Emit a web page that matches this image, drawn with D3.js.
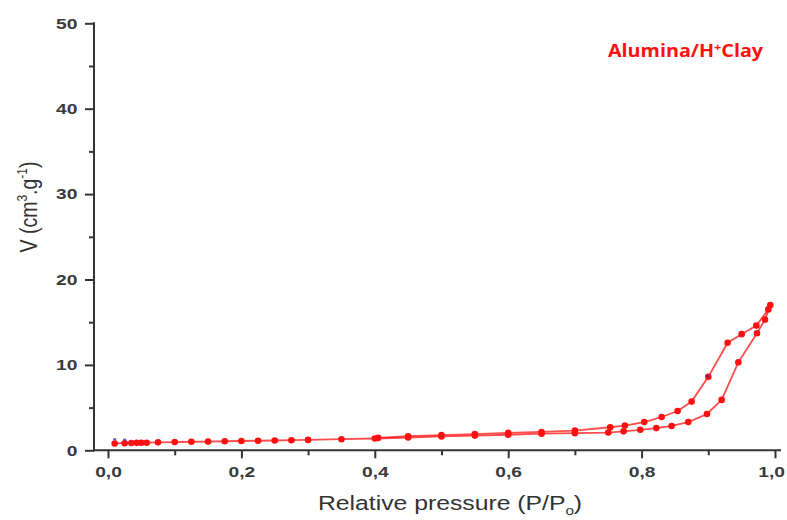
<!DOCTYPE html>
<html>
<head>
<meta charset="utf-8">
<script src="https://cdn.jsdelivr.net/npm/d3@7"></script>
<style>
  body { margin: 0; background: #fff; }
  svg { display: block; }
</style>
</head>
<body>
<div class="visContainer"></div>
<script>
// adsorption branch (P/P0, V)
const adsP = [0.010, 0.025, 0.035, 0.043, 0.050, 0.058, 0.075, 0.100, 0.125, 0.150, 0.175, 0.200,
              0.225, 0.250, 0.275, 0.300, 0.350, 0.400, 0.450, 0.500, 0.550, 0.600, 0.650, 0.700,
              0.750, 0.773, 0.798, 0.822, 0.845, 0.870, 0.898, 0.920, 0.945, 0.973, 0.985, 0.993];
const adsV = [0.80, 0.83, 0.85, 0.87, 0.88, 0.89, 0.93, 0.96, 1.00, 1.02, 1.06, 1.09,
              1.12, 1.15, 1.18, 1.22, 1.30, 1.38, 1.50, 1.62, 1.72, 1.82, 1.95, 2.00,
              2.08, 2.22, 2.40, 2.60, 2.85, 3.30, 4.25, 5.90, 10.3, 13.7, 15.3, 17.0];

// desorption branch
const desP = [0.990, 0.972, 0.950, 0.929, 0.900, 0.875, 0.854, 0.830, 0.804, 0.775, 0.753,
              0.700, 0.650, 0.600, 0.550, 0.500, 0.450, 0.405];
const desV = [16.5, 14.6, 13.6, 12.6, 8.6, 5.7, 4.6, 3.9, 3.3, 2.9, 2.7,
              2.3, 2.15, 2.05, 1.9, 1.78, 1.65, 1.45];

// small blue markers hidden under the red ones
const blueP = [0.010, 0.025, 0.899];
const blueV = [1.0, 0.95, 8.4];

const xTicks = [0, 0.2, 0.4, 0.6, 0.8, 1.0];
const xMinor = [0.1, 0.3, 0.5, 0.7, 0.9];
const yTicks = [0, 10, 20, 30, 40, 50];
const yMinor = [5, 15, 25, 35, 45];

const width = 787;
const height = 520;
const red = '#ff1010';
const axisCol = '#333';

const xScale = d3.scaleLinear().domain([0, 1]).range([108, 775]);
const yScale = d3.scaleLinear().domain([0, 50]).range([450.3, 23.3]);
const x0 = 94;

const svg = d3.select('.visContainer')
              .append('svg')
              .attr('width', width)
              .attr('height', height)
              .style('font-family', '"Liberation Sans", Arial, sans-serif');

const comma = (d) => d3.format('.1f')(d).replace('.', ',');

// x axis
svg.append('g')
   .attr('transform', `translate(0,${yScale(0)})`)
   .call(d3.axisBottom(xScale).tickValues(xTicks).tickSize(8).tickPadding(8).tickFormat(comma));
svg.append('g')
   .attr('transform', `translate(0,${yScale(0)})`)
   .call(d3.axisBottom(xScale).tickValues(xMinor).tickSize(5).tickFormat(''));

// y axis
svg.append('g')
   .attr('transform', `translate(${x0},0)`)
   .call(d3.axisLeft(yScale).tickValues(yTicks).tickSize(9).tickPadding(4).tickFormat(d3.format('d')));
svg.append('g')
   .attr('transform', `translate(${x0},0)`)
   .call(d3.axisLeft(yScale).tickValues(yMinor).tickSize(5).tickFormat(''));

svg.selectAll('.domain').remove();
svg.selectAll('.tick line').attr('stroke', axisCol).attr('stroke-width', 2);
svg.selectAll('.tick text')
   .attr('fill', '#3a3a3a')
   .attr('font-size', 15)
   .attr('font-weight', 'bold')
   .attr('transform', 'scale(1.28,1)');
// last x label sits at the right edge: pull it in a little
svg.selectAll('.tick text').filter((d) => d === 1.0 && typeof d === 'number')
   .filter(function () { return this.textContent === '1,0'; })
   .attr('x', -3);

// axis lines
svg.append('line')
   .attr('x1', x0).attr('x2', 781)
   .attr('y1', yScale(0)).attr('y2', yScale(0))
   .attr('stroke', axisCol).attr('stroke-width', 2);
svg.append('line')
   .attr('x1', x0).attr('x2', x0)
   .attr('y1', yScale(50) - 1).attr('y2', yScale(0) + 1)
   .attr('stroke', axisCol).attr('stroke-width', 2);

// axis titles
const xt = svg.append('text')
   .attr('transform', 'translate(450,510) scale(1.27,1)')
   .attr('text-anchor', 'middle')
   .attr('font-size', 19.5)
   .attr('fill', '#333');
xt.append('tspan').text('Relative pressure (P/P');
xt.append('tspan').attr('font-size', 12).attr('dy', 5).text('o');
xt.append('tspan').attr('dy', -5).text(')');

const yt = svg.append('text')
   .attr('transform', 'translate(37,207) rotate(-90) scale(1,1.27)')
   .attr('text-anchor', 'middle')
   .attr('font-size', 19.5)
   .attr('fill', '#333');
yt.append('tspan').text('V (cm');
yt.append('tspan').attr('font-size', 12).attr('dy', -8).text('3');
yt.append('tspan').attr('dy', 8).text('.g');
yt.append('tspan').attr('font-size', 12).attr('dy', -8).text('-1');
yt.append('tspan').attr('dy', 8).text(')');

// legend title
const lt = svg.append('text')
   .attr('transform', 'translate(608,57) scale(1.16,1)')
   .attr('font-family', '"Open Sans", sans-serif')
   .attr('font-weight', 'bold')
   .attr('font-size', 17)
   .attr('fill', red);
lt.append('tspan').text('Alumina/H');
lt.append('tspan').attr('font-size', 11).attr('dy', -6).text('+');
lt.append('tspan').attr('dy', 6).text('Clay');

// data
const ads = adsP.map((p, i) => [p, adsV[i]]);
const des = desP.map((p, i) => [p, desV[i]]);
const blue = blueP.map((p, i) => [p, blueV[i]]);

const line = d3.line().x((d) => xScale(d[0])).y((d) => yScale(d[1]));

[ads, des].forEach((series) => {
    svg.append('path')
       .datum(series)
       .attr('d', line)
       .attr('fill', 'none')
       .attr('stroke', red)
       .attr('stroke-opacity', 0.75)
       .attr('stroke-width', 1.8);
});

svg.selectAll('circle.dot')
   .data(ads.concat(des))
   .enter()
   .append('circle')
   .attr('class', 'dot')
   .attr('cx', (d) => xScale(d[0]))
   .attr('cy', (d) => yScale(d[1]))
   .attr('r', 3.3)
   .attr('fill', red);

// blue marks just peek out above the red dots
svg.selectAll('rect.blue')
   .data(blue)
   .enter()
   .append('rect')
   .attr('class', 'blue')
   .attr('x', (d) => xScale(d[0]) - 1.5)
   .attr('y', (d) => yScale(d[1]) - 3.5)
   .attr('width', 3)
   .attr('height', 2)
   .attr('fill', '#3030c0')
   .attr('opacity', 0.8);
</script>
</body>
</html>
